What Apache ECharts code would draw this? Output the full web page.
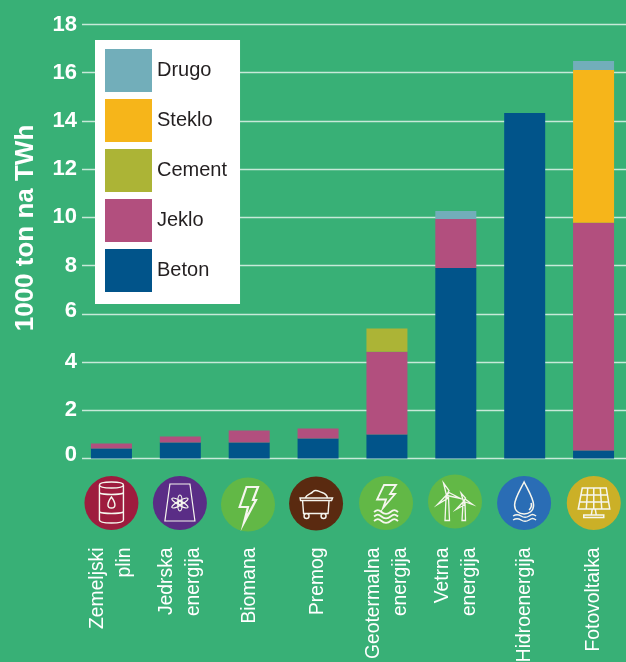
<!DOCTYPE html>
<html><head><meta charset="utf-8">
<style>html,body{margin:0;padding:0;background:#38b076;overflow:hidden}#c{width:626px;height:662px}</style>
<script src="https://cdn.jsdelivr.net/npm/echarts@6/dist/echarts.min.js"></script>
</head><body><div id="c"></div>
<script>
const categories = ['Zemeljski\nplin','Jedrska\nenergija','Biomana','Premog','Geotermalna\nenergija','Vetrna\nenergija','Hidroenergija','Fotovoltaika'];
const beton  = [0.41,0.66,0.66,0.83,1.0,7.9,14.33,0.33];
const jeklo  = [0.21,0.25,0.50,0.41,3.43,2.03,0,9.45];
const cement = [0,0,0,0,0.96,0,0,0];
const steklo = [0,0,0,0,0,0,0,6.33];
const drugo  = [0,0,0,0,0,0.33,0,0.38];
const yTicks = {min:0,max:18,interval:2};
const axisTitle = '1000 ton na TWh';
const seriesDefs = [['Beton',beton,'#01548a'],['Jeklo',jeklo,'#b24f7e'],['Cement',cement,'#acb436'],['Steklo',steklo,'#f6b51a'],['Drugo',drugo,'#72aeba']];
const font = '"Liberation Sans", Arial, sans-serif';

// icon artwork, one per category: disc colour, nudge from the category centre, svg path in a 54x54 box centred on the disc
const W='#f6f6ee';
const iconColors = ['#9e1c3e','#5a2d86','#62b846','#5a2a10','#62b846','#62b846','#2a6db5','#cbb027'];
const iconNudge  = [[0,44.5],[-0.4,44.5],[-1.2,46],[-2,45],[-0.9,44.5],[-0.8,43],[-0.6,44.5],[0.2,44.5]];
const iconLine   = [1.4,1.2,2.2,1.4,1.8,1.3,1.5,1.5];
const iconPaths = [
 'M15 9C15 5 39 5 39 9L39 44C39 48 15 48 15 44ZM15 9C15 13 39 13 39 9M15 17C20 19 34 19 39 17M15 36C20 38 34 38 39 36M27 21C24 25 23.5 27 23.5 29C23.5 33 30.5 33 30.5 29C30.5 27 30 25 27 21Z',
 'M17 8L37 8L42 45L12 45ZM27 19C24 19 24 35 27 35C30 35 30 19 27 19ZM19 22.5C17.5 25 33.5 34 35 31.5C36.5 29 20.5 20 19 22.5ZM35 22.5C33.5 20 17.5 29 19 31.5C20.5 34 36.5 25 35 22.5ZM25.5 27A1.5 1.5 0 1 0 28.5 27A1.5 1.5 0 1 0 25.5 27Z',
 'M25.5 9.5L37 9.5L32 22.5L35 22.5L23 45L27 29.5L18.7 29.5Z',
 'M11 21.5L43.5 21.5L42.5 24L11.5 24ZM13.5 24L14.5 37L39 37L40 24M16 21.5C18 17 22 18 24 15C27 12 30 15.5 33 16C36 17 38 19 38.5 21.5M15 39.5A2.5 2.5 0 1 0 20 39.5A2.5 2.5 0 1 0 15 39.5ZM32 39.5A2.5 2.5 0 1 0 37 39.5A2.5 2.5 0 1 0 32 39.5Z',
 'M25 9L37 9L31 18L36 18L24 32L27 23.5L18 23.5ZM15 36C18 33.5 19.500 33.5 22.500 36C25 38.5 29 38.5 31.500 36C34.500 33.500 36 33.500 39 36M15 40.500C18 38 19.500 38 22.500 40.500C25 43 29 43 31.500 40.500C34.500 38 36 38 39 40.500M15 45C18 42.500 19.500 42.500 22.500 45C25 47.500 29 47.500 31.500 45C34.500 42.500 36 42.500 39 45',
 'M18 23L17 46L21.500 46L20.500 23ZM18.500 21L15.500 8.500L21 16ZM19 21L32.500 24L21 18ZM18 21L9.500 30L19.500 24ZM35 28L34 46L37.500 46L37 28ZM35.500 27L33 18.500L37.500 23.500ZM36 27L44.500 30L37 24.500ZM35.500 27L28 35L37 30Z',
 'M27 6C22 16 17.500 23 17.500 29C17.500 35 22 38 27 38C32 38 36.500 35 36.500 29C36.500 23 32 16 27 6ZM32 34C34 32 35 30 34 27M16 40C19 38 21 38 24 40C27 42 29 42 32 40C35 38 36 38 39 40M16 44C19 42 21 42 24 44C27 46 29 46 32 44C35 42 36 42 39 44',
 'M15.500 12L39.500 12L43 33L11.500 33ZM14.500 19L40.500 19M13 26L42 26M21 12L19.500 33M27 12L27 33M33.500 12L35 33M25.500 33L24.500 39M28.500 33L29.500 39M17 39L37 39L37 41.500L17 41.500Z'
];

const chart = echarts.init(document.getElementById('c'), null, {renderer:'canvas'});
const richLabel = pad => ({color:'#fff',fontWeight:'bold',fontSize:22,fontFamily:font,padding:[0,0,pad,0]});
chart.setOption({
  backgroundColor:'#38b076',
  animation:false,
  textStyle:{fontFamily:font},
  grid:[
    {left:77,top:24.5,width:551,height:434,outerBoundsMode:'none'},
    {left:82,top:24.5,right:0,height:434,outerBoundsMode:'none'}
  ],
  legend:{
    orient:'vertical',left:95,top:40,
    backgroundColor:'#fff',padding:[9,13,12,10],
    itemWidth:47,itemHeight:43,itemGap:7,icon:'rect',
    data:['Drugo','Steklo','Cement','Jeklo','Beton'],
    selectedMode:false,
    textStyle:{color:'#231f20',fontSize:20,fontFamily:font}
  },
  xAxis:[
    {type:'category',gridIndex:0,data:categories,
     axisLine:{show:false},axisTick:{show:false},
     axisLabel:{interval:0,rotate:90,margin:89,color:'#fff',fontSize:19.3,lineHeight:27,align:'right',verticalAlign:'middle',fontFamily:font,hideOverlap:false}},
    {type:'category',gridIndex:1,show:false,data:categories}
  ],
  yAxis:[
    {type:'value',gridIndex:0,show:false,min:yTicks.min,max:yTicks.max,interval:yTicks.interval,splitLine:{show:false}},
    {type:'value',gridIndex:1,min:yTicks.min,max:yTicks.max,interval:yTicks.interval,
     axisLine:{show:false},axisTick:{show:false},
     splitLine:{show:true,lineStyle:{color:'rgba(255,255,255,0.72)',width:1.4}},
     axisLabel:{color:'#fff',fontWeight:'bold',fontSize:22,margin:5,fontFamily:font,
       formatter:v=>v===0?'{z|0}':v===6?'{s|6}':String(v),
       rich:{z:richLabel(8),s:richLabel(6)}},
     name:axisTitle,nameLocation:'middle',nameGap:43,
     nameTextStyle:{color:'#fff',fontWeight:'bold',fontSize:26,fontFamily:font,padding:[0,0,0,27]}}
  ],
  series:seriesDefs.map(([name,data,color])=>({
    name,type:'bar',stack:'t',xAxisIndex:0,yAxisIndex:0,data,
    barWidth:41,itemStyle:{color}
  })).concat([{
    type:'custom',name:'ikone',xAxisIndex:0,yAxisIndex:0,clip:false,silent:true,
    data:categories.map((c,i)=>[i,0]),
    renderItem(params,api){
      const i=api.value(0), p=api.coord([i,0]);
      const x=p[0]+iconNudge[i][0], y=p[1]+iconNudge[i][1];
      return {type:'group',x:x,y:y,children:[
        {type:'circle',shape:{cx:0,cy:0,r:27},style:{fill:iconColors[i]}},
        {type:'path',x:-27,y:-27,shape:{pathData:iconPaths[i]},style:{fill:'none',stroke:W,lineWidth:iconLine[i]}}
      ]};
    }
  }])
});
</script></body></html>
